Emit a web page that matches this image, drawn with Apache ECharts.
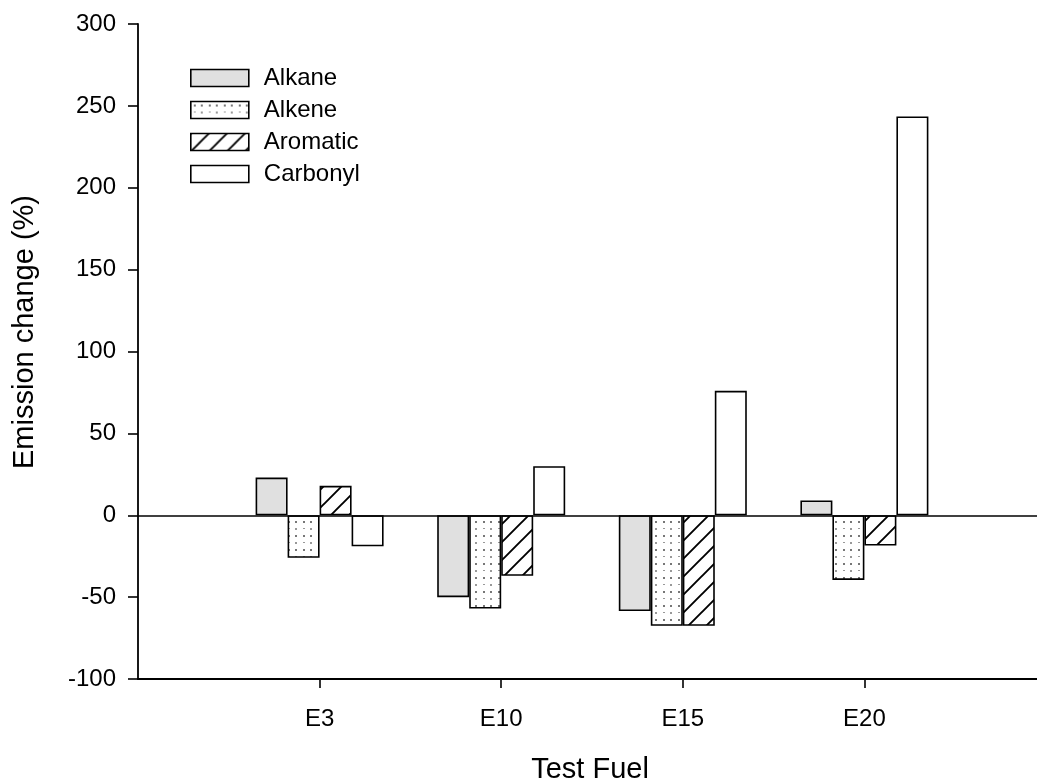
<!DOCTYPE html>
<html>
<head>
<meta charset="utf-8">
<script src="https://cdn.jsdelivr.net/npm/echarts@6/dist/echarts.min.js"></script>
<style>
html,body{margin:0;padding:0;background:#fff;}
#chart{width:1037px;height:784px;}
</style>
</head>
<body>
<div id="chart"></div>
<script>
// ---- data ----
var categories = ['E3', 'E10', 'E15', 'E20'];
var seriesNames = ['Alkane', 'Alkene', 'Aromatic', 'Carbonyl'];
var alkane = [23, -50, -58.5, 9];
var alkene = [-26, -57, -67.5, -39.5];
var aromatic = [18, -37, -67.5, -18.5];
var carbonyl = [-19, 30, 76, 243.5];
var yTicks = [-100, -50, 0, 50, 100, 150, 200, 250, 300];

// padded categories so the bars sit where the reference puts them
var axisCats = [''].concat(categories).concat(['']);
function pad(arr) { return [null].concat(arr).concat([null]); }

// ---- patterns ----
function dotPattern() {
  var c = document.createElement('canvas');
  c.width = 15; c.height = 14;
  var g = c.getContext('2d');
  g.fillStyle = '#ffffff'; g.fillRect(0, 0, 15, 14);
  g.fillStyle = '#777777';
  g.fillRect(3, 3, 2, 2);
  g.fillRect(10, 3, 2, 2);
  g.fillStyle = '#999999';
  g.fillRect(3, 10, 2, 1);
  g.fillRect(10, 10, 2, 2);
  return c;
}
function hatchPattern() {
  var s = 18;
  var c = document.createElement('canvas');
  c.width = s; c.height = s;
  var g = c.getContext('2d');
  g.fillStyle = '#ffffff'; g.fillRect(0, 0, s, s);
  g.strokeStyle = '#000000'; g.lineWidth = 1.9;
  g.beginPath();
  g.moveTo(-2, s + 2); g.lineTo(s + 2, -2);
  g.moveTo(-2, 2); g.lineTo(2, -2);
  g.moveTo(s - 2, s + 2); g.lineTo(s + 2, s - 2);
  g.stroke();
  return c;
}

var fills = [
  '#e0e0e0',
  { image: dotPattern(), repeat: 'repeat' },
  { image: hatchPattern(), repeat: 'repeat' },
  '#ffffff'
];
var values = [alkane, alkene, aromatic, carbonyl];

var series = seriesNames.map(function (name, i) {
  var s = {
    name: name,
    type: 'bar',
    data: pad(values[i]),
    barWidth: 32,
    barGap: '0%',
    itemStyle: { color: fills[i], borderColor: '#000', borderWidth: 1.6 },
    emphasis: { disabled: true },
    animation: false
  };
  if (i === 0) {
    s.markLine = {
      silent: true,
      symbol: 'none',
      label: { show: false },
      lineStyle: { color: '#000', type: 'solid', width: 1.6 },
      data: [{ yAxis: 0 }],
      animation: false
    };
  }
  return s;
});

var FONT = 'Liberation Sans, Arial, sans-serif';
var chart = echarts.init(document.getElementById('chart'));
chart.setOption({
  backgroundColor: '#ffffff',
  animation: false,
  textStyle: { fontFamily: FONT },
  grid: { left: 138, top: 24, width: 908, height: 655, containLabel: false, outerBoundsMode: 'none' },
  legend: {
    orient: 'vertical',
    left: 185,
    top: 61,
    itemWidth: 58,
    itemHeight: 17,
    itemGap: 8,
    icon: 'rect',
    data: seriesNames,
    itemStyle: { borderColor: '#000', borderWidth: 1.6 },
    textStyle: { fontSize: 24, color: '#000', padding: [0, 0, 0, 10] },
    selectedMode: false
  },
  xAxis: {
    type: 'category',
    data: axisCats,
    boundaryGap: false,
    axisLine: { onZero: false, lineStyle: { color: '#000', width: 2 } },
    axisTick: {
      show: true, length: 9, inside: false,
      interval: function (idx, val) { return val !== ''; },
      lineStyle: { color: '#000', width: 1.6 }
    },
    axisLabel: {
      interval: function (idx, val) { return val !== ''; },
      margin: 28, fontSize: 24, color: '#000'
    },
    splitLine: { show: false }
  },
  yAxis: {
    type: 'value',
    min: -100, max: 300, interval: 50,
    axisLine: { show: true, lineStyle: { color: '#000', width: 1.8 } },
    axisTick: { show: true, length: 10, inside: false, lineStyle: { color: '#000', width: 1.6 } },
    axisLabel: { margin: 22, fontSize: 24, color: '#000',
      formatter: function (v) { return yTicks.indexOf(v) >= 0 ? String(v) : ''; } },
    splitLine: { show: false }
  },
  graphic: [
    {
      type: 'text', x: 25, y: 332, rotation: Math.PI / 2,
      style: { text: 'Emission change (%)', fontSize: 29, fill: '#000',
        fontFamily: FONT, align: 'center', verticalAlign: 'middle' }
    },
    {
      type: 'text', x: 590, y: 770,
      style: { text: 'Test Fuel', fontSize: 29, fill: '#000',
        fontFamily: FONT, align: 'center', verticalAlign: 'middle' }
    }
  ],
  series: series
});
</script>
</body>
</html>
